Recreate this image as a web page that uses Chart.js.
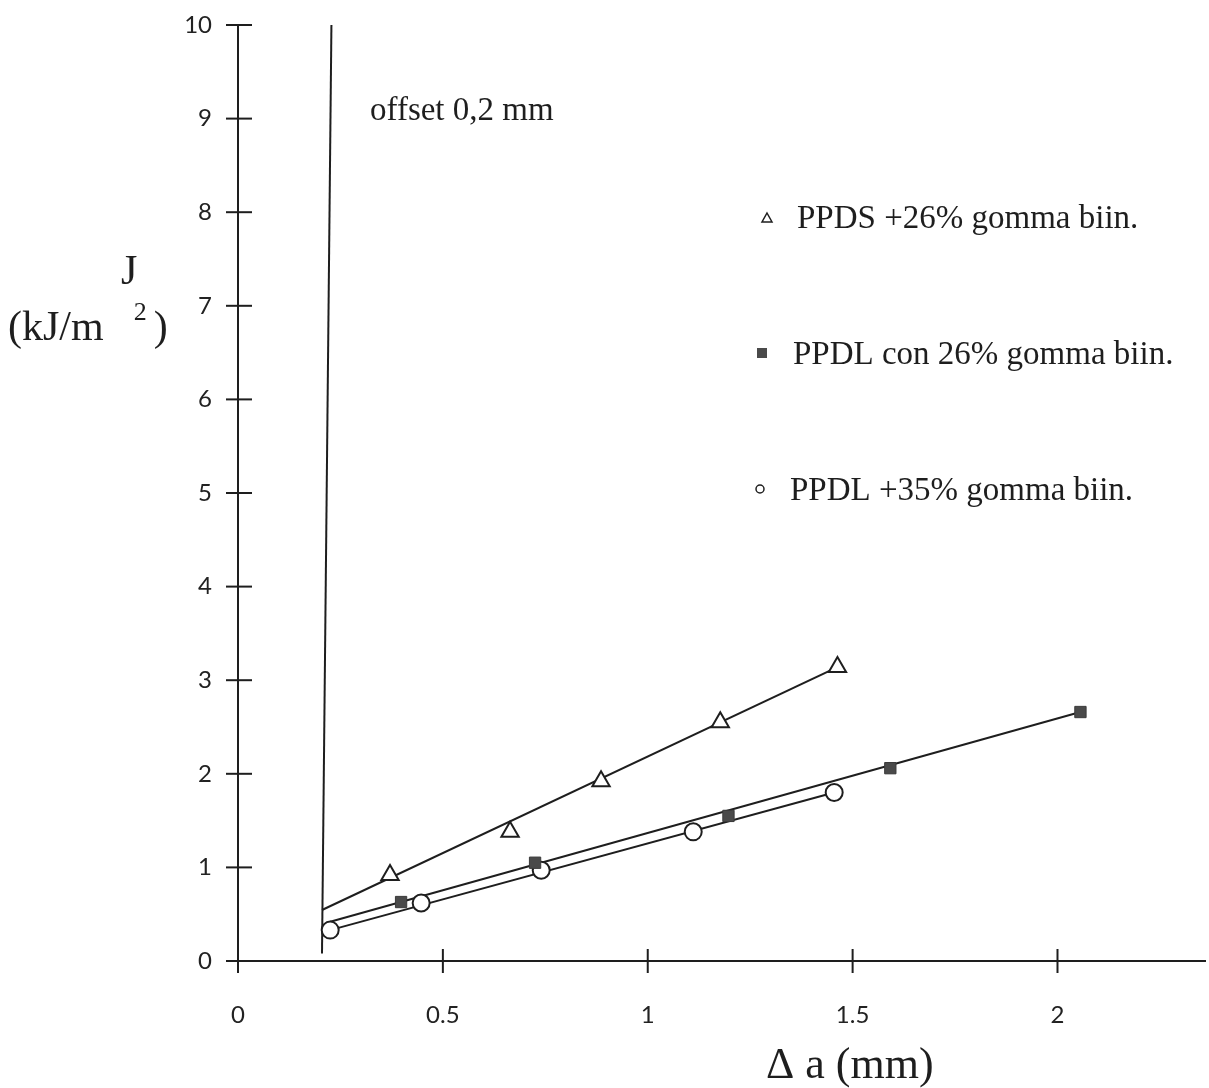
<!DOCTYPE html>
<html>
<head>
<meta charset="utf-8">
<script src="https://cdn.jsdelivr.net/npm/chart.js@4.4.1/dist/chart.umd.min.js"></script>
<style>
  html, body { margin: 0; padding: 0; background: #ffffff; }
  #wrap { width: 1209px; height: 1088px; position: relative; }
</style>
</head>
<body>
<div id="wrap"><canvas id="c" width="1209" height="1088"></canvas></div>
<script>
// ---- data ----
const xTicks = [0, 0.5, 1, 1.5, 2];
const yTicks = [0, 1, 2, 3, 4, 5, 6, 7, 8, 9, 10];

const ppdsX = [0.371, 0.664, 0.886, 1.177, 1.463];
const ppdsY = [0.92, 1.38, 1.92, 2.55, 3.14];

const ppdl26X = [0.398, 0.725, 1.197, 1.592, 2.056];
const ppdl26Y = [0.63, 1.05, 1.55, 2.06, 2.66];

const ppdl35X = [0.225, 0.447, 0.740, 1.111, 1.455];
const ppdl35Y = [0.33, 0.62, 0.97, 1.38, 1.80];

// fitted straight lines (end points)
const ppdsFitX = [0.205, 1.463];
const ppdsFitY = [0.545, 3.14];
const ppdl26FitX = [0.225, 2.056];
const ppdl26FitY = [0.42, 2.66];
const ppdl35FitX = [0.225, 1.455];
const ppdl35FitY = [0.33, 1.80];

// offset 0,2 mm construction line
const offsetX = [0.205, 0.228];
const offsetY = [0.08, 10];

const legendLabels = ["PPDS +26% gomma biin.", "PPDL con 26% gomma biin.", "PPDL +35% gomma biin."];
const xTitle = "\u0394 a (mm)";
const yTitle1 = "J";
const yTitle2 = "(kJ/m";
const noteText = "offset 0,2 mm";

const pts = (xs, ys) => xs.map((x, i) => ({ x: x, y: ys[i] }));
const INK = '#1e1e1e';

const lineDs = (xs, ys) => ({
  type: 'line', data: pts(xs, ys), showLine: true, borderColor: INK, borderWidth: 2,
  pointRadius: 0, fill: false, tension: 0, clip: false, order: 5
});

const crossTicks = {
  id: 'crossTicks',
  afterDraw(chart) {
    const ctx = chart.ctx;
    const xs = chart.scales.x, ys = chart.scales.y;
    ctx.save();
    ctx.strokeStyle = INK;
    ctx.lineWidth = 2;
    yTicks.forEach(v => {
      const py = ys.getPixelForValue(v);
      const px = xs.getPixelForValue(0);
      ctx.beginPath(); ctx.moveTo(px - 12, py); ctx.lineTo(px + 14, py); ctx.stroke();
    });
    xTicks.forEach(v => {
      const px = xs.getPixelForValue(v);
      const py = ys.getPixelForValue(0);
      ctx.beginPath(); ctx.moveTo(px, py - 12); ctx.lineTo(px, py + 12); ctx.stroke();
    });
    // texts
    ctx.fillStyle = INK;
    ctx.textBaseline = 'alphabetic';
    ctx.textAlign = 'left';
    ctx.font = '44px "Liberation Serif", "DejaVu Serif", serif';
    ctx.fillText(xTitle, 766, 1078);
    ctx.font = '42px "Liberation Serif", serif';
    ctx.fillText(yTitle1, 121, 284);
    ctx.fillText(yTitle2, 8, 340);
    const w = ctx.measureText(yTitle2).width;
    ctx.font = '26px "Liberation Serif", serif';
    ctx.fillText("2", 8 + w + 30, 320);
    ctx.font = '42px "Liberation Serif", serif';
    ctx.fillText(")", 8 + w + 50, 340);
    ctx.font = '33px "Liberation Serif", serif';
    ctx.fillText(noteText, 370, 120);

    // legend
    const rows = [228, 364, 500];
    const textX = [797, 793, 790];
    const markX = [767, 762, 760];
    ctx.font = '33px "Liberation Serif", serif';
    legendLabels.forEach((t, i) => {
      ctx.fillStyle = INK;
      ctx.fillText(t, textX[i], rows[i]);
    });
    ctx.lineWidth = 1.5;
    let mx = markX[0], my = rows[0] - 10;
    ctx.beginPath(); ctx.moveTo(mx, my - 5); ctx.lineTo(mx + 5, my + 4); ctx.lineTo(mx - 5, my + 4); ctx.closePath();
    ctx.fillStyle = '#fff'; ctx.fill(); ctx.stroke();
    mx = markX[1]; my = rows[1] - 11;
    ctx.fillStyle = '#4a4a4a'; ctx.fillRect(mx - 5, my - 5, 10, 10);
    mx = markX[2]; my = rows[2] - 11;
    ctx.beginPath(); ctx.arc(mx, my, 4, 0, Math.PI * 2);
    ctx.fillStyle = '#fff'; ctx.fill(); ctx.stroke();
    ctx.restore();
  }
};

new Chart(document.getElementById('c'), {
  type: 'scatter',
  data: {
    datasets: [
      lineDs(offsetX, offsetY),
      lineDs(ppdsFitX, ppdsFitY),
      lineDs(ppdl26FitX, ppdl26FitY),
      lineDs(ppdl35FitX, ppdl35FitY),
      { label: legendLabels[0], data: pts(ppdsX, ppdsY), pointStyle: 'triangle', pointRadius: 10,
        pointBackgroundColor: '#ffffff', pointBorderColor: INK, pointBorderWidth: 2, order: 1, clip: false },
      { label: legendLabels[1], data: pts(ppdl26X, ppdl26Y), pointStyle: 'rect', pointRadius: 8,
        pointBackgroundColor: '#4a4a4a', pointBorderColor: '#3a3a3a', pointBorderWidth: 1, order: 1, clip: false },
      { label: legendLabels[2], data: pts(ppdl35X, ppdl35Y), pointStyle: 'circle', pointRadius: 8.5,
        pointBackgroundColor: '#ffffff', pointBorderColor: INK, pointBorderWidth: 2, order: 1, clip: false }
    ]
  },
  options: {
    responsive: false,
    animation: false,
    devicePixelRatio: 1,
    layout: { autoPadding: false, padding: { top: 25, right: 4, left: 0, bottom: 0 } },
    plugins: { legend: { display: false }, tooltip: { enabled: false } },
    scales: {
      x: {
        type: 'linear', min: 0, max: 2.36,
        afterFit(s) { s.height = 127; s.paddingLeft = 0; s.paddingRight = 0; },
        afterBuildTicks(s) { s.ticks = xTicks.map(v => ({ value: v })); },
        grid: { display: true, drawOnChartArea: false, drawTicks: false },
        border: { display: true, color: INK, width: 2 },
        ticks: { padding: 40, color: '#222', font: { family: 'Lato, "DejaVu Sans", sans-serif', size: 24, weight: '400' },
                 callback: v => String(v), maxRotation: 0, autoSkip: false }
      },
      y: {
        type: 'linear', min: 0, max: 10,
        afterFit(s) { s.width = 238; s.paddingTop = 0; s.paddingBottom = 0; },
        afterBuildTicks(s) { s.ticks = yTicks.map(v => ({ value: v })); },
        grid: { display: true, drawOnChartArea: false, drawTicks: false },
        border: { display: true, color: INK, width: 2 },
        ticks: { padding: 26, color: '#222', font: { family: 'Lato, "DejaVu Sans", sans-serif', size: 24, weight: '400' },
                 callback: v => String(v), autoSkip: false }
      }
    }
  },
  plugins: [crossTicks]
});
</script>
</body>
</html>
